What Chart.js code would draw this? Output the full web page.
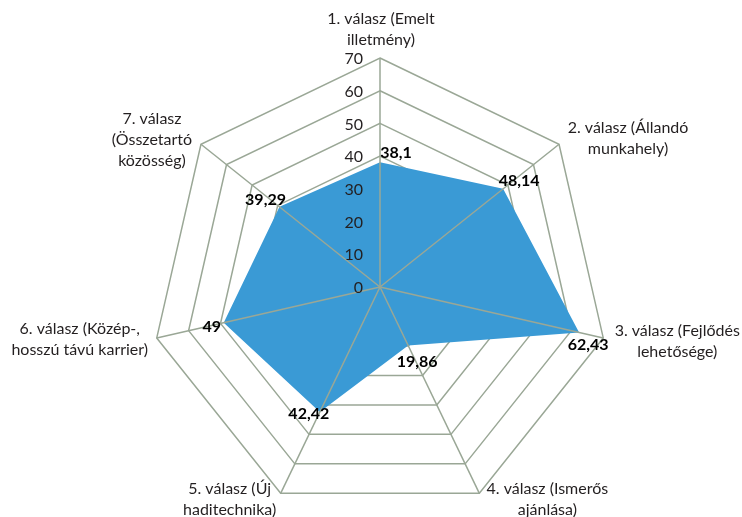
<!DOCTYPE html>
<html>
<head>
<meta charset="utf-8">
<script src="https://cdn.jsdelivr.net/npm/chart.js@4"></script>
<style>
  html, body { margin: 0; padding: 0; background: #fff; }
</style>
</head>
<body>
<canvas id="radarChart" width="742" height="517"></canvas>
<script>
const categories = [
  ['1. válasz (Emelt', 'illetmény)'],
  ['2. válasz (Állandó', 'munkahely)'],
  ['3. válasz (Fejlődés', 'lehetősége)'],
  ['4. válasz (Ismerős', 'ajánlása)'],
  ['5. válasz (Új', 'haditechnika)'],
  ['6. válasz (Közép-,', 'hosszú távú karrier)'],
  ['7. válasz', '(Összetartó', 'közösség)']
];
const values = [38.1, 48.14, 62.43, 19.86, 42.42, 49, 39.29];
const scaleMin = 0;
const scaleMax = 70;
const scaleStep = 10;

const gridColor = '#9aa796';
const fillColor = '#3a9ad5';
const textFont = 'Lato, "Noto Sans", sans-serif';

// where each category block sits, relative to the outer vertex of its spoke
const labelOffsets = [[1, -29], [69, -6], [74, 3], [68, 6], [-51, 6], [-77, 1], [-49, -4]];
// where each value label sits, relative to its point
const valueOffsets = [[16, -10], [16, -8], [9, 12], [9, 16], [-11, 2], [-12, 4], [-14, -7]];

const overlay = {
  id: 'overlay',
  afterDatasetsDraw(chart) {
    const ctx = chart.ctx;
    const scale = chart.scales.r;
    const n = chart.data.labels.length;
    ctx.save();
    // spokes drawn on top of the filled area
    ctx.strokeStyle = gridColor;
    ctx.lineWidth = 1.5;
    for (let i = 0; i < n; i++) {
      const p = scale.getPointPosition(i, scale.drawingArea);
      ctx.beginPath();
      ctx.moveTo(scale.xCenter, scale.yCenter);
      ctx.lineTo(p.x, p.y);
      ctx.stroke();
    }
    // tick labels, left of the vertical spoke
    ctx.fillStyle = '#231f20';
    ctx.font = '16px ' + textFont;
    ctx.textAlign = 'right';
    ctx.textBaseline = 'middle';
    scale.ticks.forEach(t => {
      const d = scale.getDistanceFromCenterForValue(t.value);
      ctx.fillText(String(t.value), scale.xCenter - 17, scale.yCenter - d + 1);
    });
    // category labels
    ctx.textAlign = 'center';
    chart.data.labels.forEach((lines, i) => {
      const p = scale.getPointPosition(i, scale.drawingArea);
      const cx = p.x + labelOffsets[i][0];
      const cy = p.y + labelOffsets[i][1];
      const lh = 21;
      const top = cy - (lines.length - 1) * lh / 2;
      lines.forEach((ln, k) => ctx.fillText(ln, cx, top + k * lh));
    });
    // value labels
    ctx.fillStyle = '#000';
    ctx.font = 'bold 16px ' + textFont;
    const meta = chart.getDatasetMeta(0);
    meta.data.forEach((pt, i) => {
      const txt = String(chart.data.datasets[0].data[i]).replace('.', ',');
      ctx.fillText(txt, pt.x + valueOffsets[i][0], pt.y + valueOffsets[i][1]);
    });
    ctx.restore();
  }
};

new Chart(document.getElementById('radarChart'), {
  type: 'radar',
  data: {
    labels: categories,
    datasets: [{
      data: values,
      backgroundColor: fillColor,
      borderColor: fillColor,
      borderWidth: 0,
      fill: true,
      pointRadius: 0,
      pointHoverRadius: 0
    }]
  },
  options: {
    responsive: false,
    animation: false,
    layout: { padding: { left: 20, right: 2, top: 58, bottom: 1 } },
    plugins: {
      legend: { display: false },
      tooltip: { enabled: false }
    },
    scales: {
      r: {
        min: scaleMin,
        max: scaleMax,
        ticks: { stepSize: scaleStep, display: false },
        pointLabels: { display: false },
        grid: { color: gridColor, lineWidth: 1.5 },
        angleLines: { display: false }
      }
    }
  },
  plugins: [overlay]
});
</script>
</body>
</html>
